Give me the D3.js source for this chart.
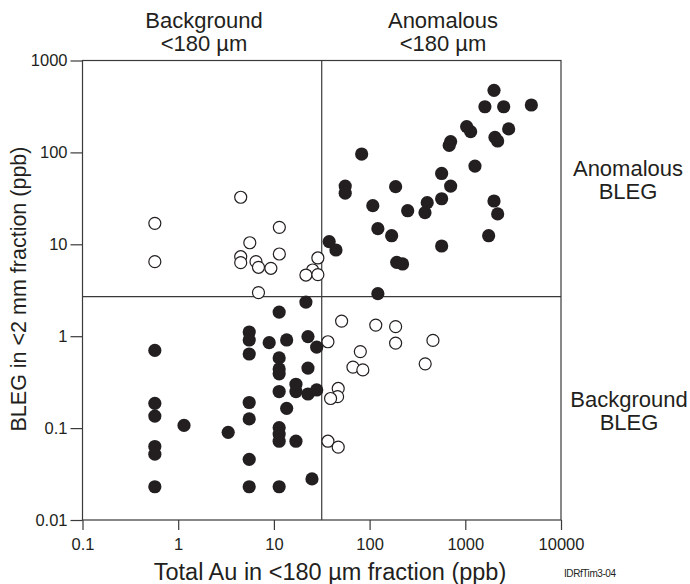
<!DOCTYPE html>
<html><head><meta charset="utf-8">
<script src="https://cdn.jsdelivr.net/npm/d3@7"></script>
<style>
html,body{margin:0;padding:0;background:#fff;}
text{font-family:"Liberation Sans",Arial,sans-serif;fill:#231f20;}
</style></head>
<body><svg id="c" width="690" height="584"></svg>
<script>
const xTicks = [0.1, 1, 10, 100, 1000, 10000];
const xTickLabels = ["0.1", "1", "10", "100", "1000", "10000"];
const yTicks = [0.01, 0.1, 1, 10, 100, 1000];
const yTickLabels = ["0.01", "0.1", "1", "10", "100", "1000"];
const auThreshold = 31.6;
const blegThreshold = 2.7;

const openAu = [0.57, 0.57, 4.5, 11.4, 5.6, 4.5, 4.5, 6.5, 6.9, 9.3, 11.4, 28.8, 25.4, 21.6, 28.8, 6.9,
  51, 116, 187, 187, 459, 36.7, 80, 67, 85, 381, 47, 46.3, 39.1, 36.7, 47];
const openBleg = [16.9, 6.47, 32.5, 15.3, 10.4, 7.33, 6.31, 6.47, 5.62, 5.48, 7.84, 7.1, 5.25, 4.63, 4.67, 2.98,
  1.46, 1.32, 1.27, 0.84, 0.9, 0.87, 0.68, 0.46, 0.43, 0.5, 0.27, 0.22, 0.21, 0.072, 0.062];

const filledAu = [1995, 1603, 2518, 4898, 1033, 1138, 2838, 2042, 2178, 703, 679, 82.6, 1262, 566, 703, 55.6, 55.6,
  187, 566, 400, 379, 250, 108, 1995, 2178, 122, 170, 1754, 566, 37.8, 44.5, 192, 221, 122,
  21.6, 11.35, 5.52, 5.52, 5.52, 8.93, 13.6, 22.7, 28, 11.35, 11.35, 11.35, 22.7, 17, 17, 11.35, 22.7, 28, 13.6,
  0.57, 0.57, 0.57, 1.15, 3.33, 5.52, 5.52, 11.35, 11.35, 11.35, 17, 0.57, 0.57, 5.52, 0.57, 5.52, 11.35, 25];
const filledBleg = [474, 314, 314, 328, 191, 168, 180, 146, 133, 131, 119, 96, 71, 59, 43, 43, 36,
  42.4, 31.3, 28.4, 22.1, 23.2, 26.3, 29.6, 21.4, 14.8, 12.4, 12.4, 9.58, 10.7, 8.67, 6.37, 6.11, 2.9,
  2.35, 1.83, 1.11, 0.91, 0.64, 0.85, 0.91, 0.99, 0.76, 0.58, 0.44, 0.39, 0.45, 0.30, 0.25, 0.25, 0.235, 0.26, 0.164,
  0.70, 0.186, 0.135, 0.107, 0.090, 0.19, 0.126, 0.101, 0.086, 0.072, 0.072, 0.063, 0.052, 0.0457, 0.023, 0.023, 0.023, 0.028];

const ink = "#231f20", lineCol = "#3a3a3a";
const L = 82.5, R = 561, T = 60.5, B = 520;
const svg = d3.select("#c");
const x = d3.scaleLog().domain([0.1, 10000]).range([L, R]);
const y = d3.scaleLog().domain([0.01, 1000]).range([B, T]);

// axes
const xa = svg.append("g").attr("transform", `translate(0,${B})`)
  .call(d3.axisBottom(x).tickValues(xTicks).tickFormat((d, i) => xTickLabels[i]).tickSize(10).tickPadding(8));
const ya = svg.append("g").attr("transform", `translate(${L},0)`)
  .call(d3.axisLeft(y).tickValues(yTicks).tickFormat((d, i) => yTickLabels[i]).tickSize(12).tickPadding(3));
[xa, ya].forEach(g => {
  g.select(".domain").remove();
  g.selectAll("line").attr("stroke", lineCol).attr("stroke-width", 1.2);
  g.selectAll("text").attr("font-size", 16.5).attr("fill", ink)
    .style("font-family", '"Liberation Sans", Arial, sans-serif');
});

// frame
svg.append("rect").attr("x", L).attr("y", T).attr("width", R - L).attr("height", B - T)
  .attr("fill", "none").attr("stroke", lineCol).attr("stroke-width", 1.2);
// thresholds
svg.append("line").attr("x1", x(auThreshold)).attr("x2", x(auThreshold)).attr("y1", T).attr("y2", B)
  .attr("stroke", lineCol).attr("stroke-width", 1.2);
svg.append("line").attr("x1", L).attr("x2", R).attr("y1", y(blegThreshold)).attr("y2", y(blegThreshold))
  .attr("stroke", lineCol).attr("stroke-width", 1.2);

// points
const filled = filledAu.map((v, i) => [v, filledBleg[i]]);
const open = openAu.map((v, i) => [v, openBleg[i]]);
svg.append("g").selectAll("circle").data(filled).join("circle")
  .attr("cx", d => x(d[0])).attr("cy", d => y(d[1])).attr("r", 6.6).attr("fill", ink);
svg.append("g").selectAll("circle").data(open).join("circle")
  .attr("cx", d => x(d[0])).attr("cy", d => y(d[1])).attr("r", 6).attr("fill", "#fff")
  .attr("stroke", ink).attr("stroke-width", 1.2);

// labels
function label(txt, cx, cy, size, anchor) {
  svg.append("text").attr("x", cx).attr("y", cy).attr("font-size", size)
    .attr("text-anchor", anchor || "middle").attr("dominant-baseline", "central").text(txt);
}
label("Background", 204, 20, 22);
label("<180 µm", 204, 43, 22);
label("Anomalous", 443, 20, 22);
label("<180 µm", 443, 43, 22);
label("Anomalous", 628, 168, 22);
label("BLEG", 628, 191, 22);
label("Background", 629, 399, 22);
label("BLEG", 629, 422, 22);
label("Total Au in <180 µm fraction (ppb)", 330, 572, 23.5);
svg.append("text").attr("transform", "translate(19,289) rotate(-90)")
  .attr("text-anchor", "middle").attr("dominant-baseline", "central")
  .attr("font-size", 21.5).text("BLEG in <2 mm fraction (ppb)");
svg.append("text").attr("x", 564).attr("y", 573).attr("font-size", 10)
  .attr("dominant-baseline", "central").attr("textLength", 52).text("IDRfTim3-04");
</script></body></html>
